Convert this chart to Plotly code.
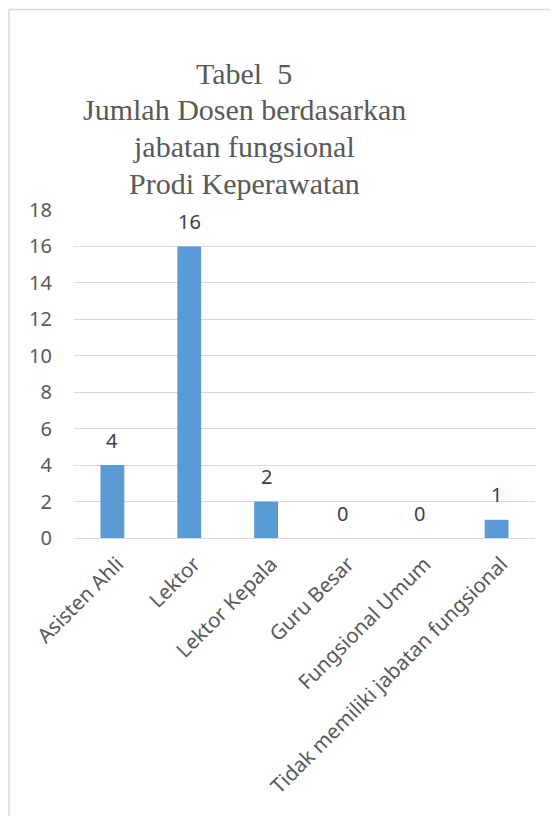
import plotly.graph_objects as go

categories = ["Asisten Ahli", "Lektor", "Lektor Kepala", "Guru Besar",
              "Fungsional Umum", "Tidak memiliki jabatan fungsional"]
values = [4, 16, 2, 0, 0, 1]
title_lines = ["Tabel  5", "Jumlah Dosen berdasarkan", "jabatan fungsional", "Prodi Keperawatan"]

OFF = 8  # page body margin
W, H = 558 - OFF, 816 - OFF
L, R, T, B = 74 - OFF, 23, 210 - OFF, 278
pw, ph = W - L - R, H - T - B

def px2x(px):
    return (px - OFF - L) / pw

def py2y(py):
    return (H - B - (py - OFF)) / ph

fig = go.Figure(go.Bar(
    x=categories, y=values,
    marker=dict(color="#5B9BD5", line=dict(width=0)),
    hoverinfo="x+y",
))

annotations = []
for c, v in zip(categories, values):
    annotations.append(dict(
        text=str(v), x=c, y=v, xref="x", yref="y",
        xanchor="center", yanchor="middle", yshift=25, showarrow=False,
        font=dict(family="Noto Sans", size=20, color="#404040"),
    ))

centers = [73, 110, 146, 183]
for line, cy in zip(title_lines, centers):
    annotations.append(dict(
        text=line, x=px2x(244), y=py2y(cy), xref="paper", yref="paper",
        xanchor="center", yanchor="middle", showarrow=False,
        font=dict(family="Liberation Serif", size=30, color="#595959"),
    ))

fig.update_layout(
    width=W, height=H,
    margin=dict(l=L, r=R, t=T, b=B),
    paper_bgcolor="white", plot_bgcolor="white",
    bargap=0.69,
    showlegend=False,
    annotations=annotations,
    shapes=[
        dict(type="line", xref="paper", yref="paper",
             x0=px2x(9), x1=px2x(600), y0=py2y(9.5), y1=py2y(9.5),
             line=dict(color="#d9d9d9", width=1.5)),
        dict(type="line", xref="paper", yref="paper",
             x0=px2x(9), x1=px2x(9), y0=py2y(9.5), y1=py2y(900),
             line=dict(color="#d9d9d9", width=1.5)),
    ],
)
fig.update_yaxes(
    range=[0, 18], dtick=2, showgrid=True, gridcolor="#d9d9d9", gridwidth=1,
    zeroline=False, showline=False,
    tickfont=dict(family="Noto Sans", size=20, color="#595959"),
    ticklabelstandoff=21,
)
fig.update_xaxes(
    tickangle=-45, showline=True, linecolor="#d9d9d9", linewidth=1,
    tickfont=dict(family="Noto Sans", size=20.5, color="#595959"),
    ticklabelstandoff=5, ticklabelshift=5,
)

fig.write_html("out.html")
